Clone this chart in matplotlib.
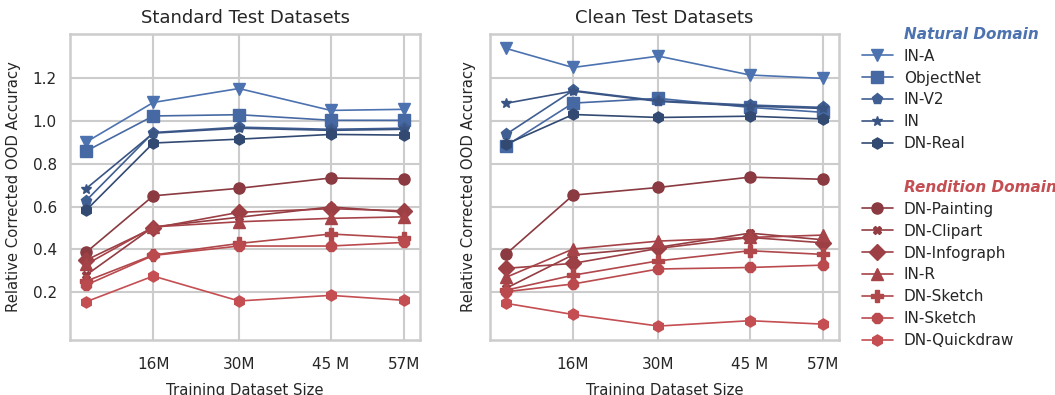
import matplotlib
matplotlib.use('Agg')
import matplotlib.pyplot as plt
import seaborn as sns
from matplotlib.lines import Line2D

# training set sizes (millions); the first one has no tick label
sizes = [5, 16, 30, 45, 57]
tick_pos = [16, 30, 45, 57]
tick_labels = ['16M', '30M', '45 M', '57M']

natural_names = ['IN-A', 'ObjectNet', 'IN-V2', 'IN', 'DN-Real']
rendition_names = ['DN-Painting', 'DN-Clipart', 'DN-Infograph', 'IN-R',
                   'DN-Sketch', 'IN-Sketch', 'DN-Quickdraw']

# Standard test datasets
std_in_a = [0.90, 1.085, 1.15, 1.048, 1.053]
std_objectnet = [0.858, 1.022, 1.028, 1.002, 1.002]
std_in_v2 = [0.627, 0.945, 0.970, 0.960, 0.965]
std_in = [0.683, 0.942, 0.965, 0.955, 0.960]
std_dn_real = [0.582, 0.896, 0.914, 0.936, 0.933]
std_dn_painting = [0.386, 0.650, 0.685, 0.733, 0.728]
std_dn_clipart = [0.280, 0.505, 0.550, 0.598, 0.574]
std_dn_infograph = [0.350, 0.500, 0.573, 0.590, 0.580]
std_in_r = [0.330, 0.505, 0.529, 0.545, 0.552]
std_dn_sketch = [0.252, 0.374, 0.428, 0.472, 0.454]
std_in_sketch = [0.234, 0.372, 0.416, 0.416, 0.433]
std_dn_quickdraw = [0.156, 0.276, 0.160, 0.186, 0.163]

# Clean test datasets
cln_in_a = [1.337, 1.248, 1.301, 1.213, 1.197]
cln_objectnet = [0.883, 1.082, 1.104, 1.062, 1.039]
cln_in_v2 = [0.936, 1.141, 1.093, 1.073, 1.062]
cln_in = [1.081, 1.138, 1.090, 1.068, 1.057]
cln_dn_real = [0.890, 1.029, 1.015, 1.021, 1.008]
cln_dn_painting = [0.378, 0.653, 0.689, 0.737, 0.727]
cln_dn_clipart = [0.219, 0.375, 0.410, 0.476, 0.445]
cln_dn_infograph = [0.312, 0.335, 0.405, 0.456, 0.431]
cln_in_r = [0.270, 0.402, 0.439, 0.456, 0.467]
cln_dn_sketch = [0.210, 0.280, 0.347, 0.394, 0.377]
cln_in_sketch = [0.203, 0.239, 0.309, 0.316, 0.327]
cln_dn_quickdraw = [0.149, 0.097, 0.043, 0.068, 0.052]

standard = [std_in_a, std_objectnet, std_in_v2, std_in, std_dn_real,
            std_dn_painting, std_dn_clipart, std_dn_infograph, std_in_r,
            std_dn_sketch, std_in_sketch, std_dn_quickdraw]
clean = [cln_in_a, cln_objectnet, cln_in_v2, cln_in, cln_dn_real,
         cln_dn_painting, cln_dn_clipart, cln_dn_infograph, cln_in_r,
         cln_dn_sketch, cln_in_sketch, cln_dn_quickdraw]

names = natural_names + rendition_names
markers = ['v', 's', 'p', '*', 'h', 'o', 'X', 'D', '^', 'P', '8', 'h']
msizes = [9, 8, 8, 7, 8, 8, 6, 8, 8, 8, 8, 8]
colors = ['#4c72b0', '#4769a3', '#3f5e92', '#395483', '#324a72',
          '#8a3a40', '#933d42', '#9c4045', '#a64348', '#b0474b', '#ba4a4e', '#c44e52']

sns.set_theme(style='whitegrid')
plt.rcParams['font.family'] = ['DejaVu Sans']
plt.rcParams['axes.edgecolor'] = '#cccccc'
plt.rcParams['grid.color'] = '#cccccc'

fig = plt.figure(figsize=(10.55, 3.95), dpi=100)
ax1 = fig.add_axes([0.0664, 0.1392, 0.3318, 0.7747])
ax2 = fig.add_axes([0.4645, 0.1392, 0.3308, 0.7747])

for ax, data, title in [(ax1, standard, 'Standard Test Datasets'),
                        (ax2, clean, 'Clean Test Datasets')]:
    for vals, name, m, ms, c in zip(data, names, markers, msizes, colors):
        ax.plot(sizes, vals, marker=m, markersize=ms, color=c, lw=1.2, label=name)
    ax.set_ylim(-0.022, 1.404)
    ax.set_yticks([0.2, 0.4, 0.6, 0.8, 1.0, 1.2])
    ax.set_xticks(tick_pos)
    ax.set_xticklabels(tick_labels)
    ax.tick_params(labelsize=11)
    ax.tick_params(axis='x', pad=6)
    ax.grid(True, lw=1.5)
    for sp in ax.spines.values():
        sp.set_linewidth(1.8)
    ax.set_title(title, fontsize=13, pad=8)
    ax.set_xlabel('Training Dataset Size', fontsize=10.7, labelpad=8.5)

ax1.set_ylabel('Relative Corrected OOD Accuracy', fontsize=10.7, labelpad=8)
ax2.set_ylabel('Relative Corrected OOD Accuracy', fontsize=10.7, labelpad=10)
ax2.tick_params(labelleft=False)

# legend with group headers
blank = Line2D([], [], linestyle='none')
handles, labels = ax1.get_legend_handles_labels()
leg_handles = [blank] + handles[:5] + [blank, blank] + handles[5:]
leg_labels = ['Natural Domain'] + labels[:5] + ['', 'Rendition Domain'] + labels[5:]
leg = fig.legend(leg_handles, leg_labels, loc='upper left',
                 bbox_to_anchor=(0.804, 0.967), frameon=False,
                 fontsize=11, labelspacing=0.45, handlelength=2.0,
                 handletextpad=0.75)
for t in leg.get_texts():
    if t.get_text() == 'Natural Domain':
        t.set_color('#4c72b0')
        t.set_fontweight('bold')
        t.set_fontstyle('italic')
    elif t.get_text() == 'Rendition Domain':
        t.set_color('#c44e52')
        t.set_fontweight('bold')
        t.set_fontstyle('italic')

fig.savefig('out.png', dpi=100)
